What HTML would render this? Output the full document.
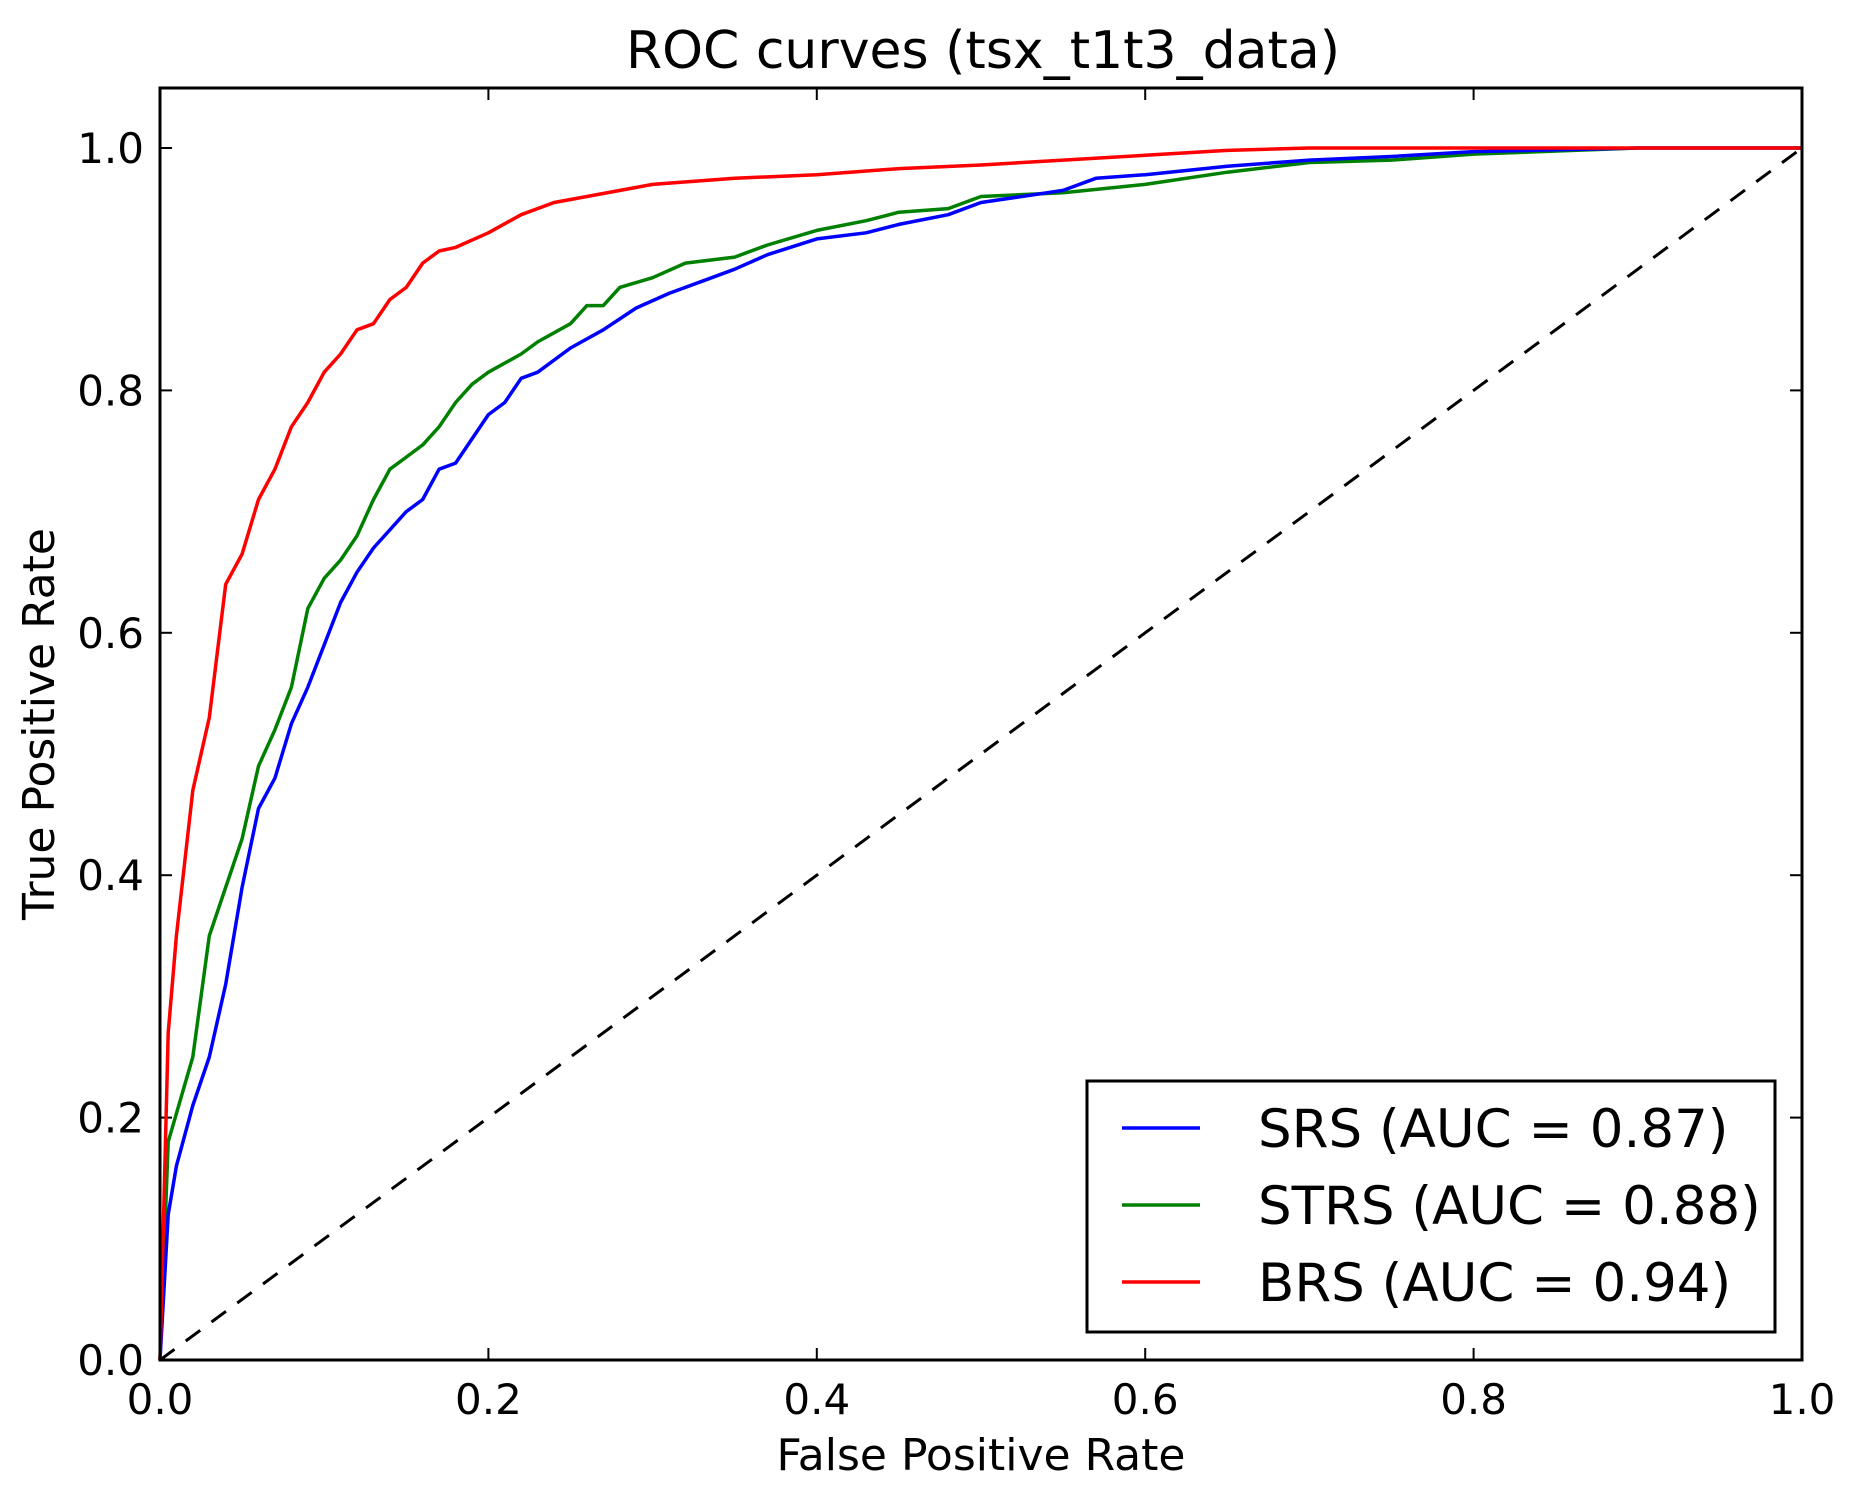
<!DOCTYPE html>
<html><head><meta charset="utf-8"><style>
html,body{margin:0;padding:0;background:#fff;}
svg{display:block;font-family:"DejaVu Sans","Liberation Sans",sans-serif;}
</style></head><body>
<svg id="chart" width="1852" height="1501" viewBox="0 0 1852 1501">
<text x="983" y="68" font-size="52" text-anchor="middle">ROC curves (tsx_t1t3_data)</text>
<g id="ticks"></g>
<g id="series"></g>
<rect x="160" y="88" width="1642" height="1272" fill="none" stroke="#000" stroke-width="3"/>
<text x="981" y="1470" font-size="44" text-anchor="middle">False Positive Rate</text>
<text transform="translate(54,724) rotate(-90)" font-size="44" text-anchor="middle">True Positive Rate</text>
<g>
<rect x="1087" y="1081" width="688" height="251" fill="#fff" stroke="#000" stroke-width="3"/>
<line x1="1122" y1="1128" x2="1200" y2="1128" stroke="#0000ff" stroke-width="3.5"/>
<text x="1258" y="1147" font-size="53">SRS (AUC = 0.87)</text>
<line x1="1122" y1="1205" x2="1200" y2="1205" stroke="#008000" stroke-width="3.5"/>
<text x="1258" y="1224" font-size="53">STRS (AUC = 0.88)</text>
<line x1="1122" y1="1282" x2="1200" y2="1282" stroke="#ff0000" stroke-width="3.5"/>
<text x="1258" y="1301" font-size="53">BRS (AUC = 0.94)</text>
</g>
</svg>
<script>
const tickValues=[0,0.2,0.4,0.6,0.8,1.0];
const tickLabels=["0.0","0.2","0.4","0.6","0.8","1.0"];
const srsX=[0,0.005,0.01,0.02,0.03,0.04,0.05,0.06,0.07,0.08,0.09,0.1,0.11,0.12,0.13,0.15,0.16,0.17,0.18,0.19,0.2,0.21,0.22,0.23,0.25,0.27,0.29,0.31,0.33,0.35,0.37,0.4,0.43,0.45,0.48,0.5,0.55,0.57,0.6,0.65,0.7,0.75,0.8,0.9,1.0];
const srsY=[0,0.12,0.16,0.21,0.25,0.31,0.39,0.455,0.48,0.525,0.555,0.59,0.625,0.65,0.67,0.70,0.71,0.735,0.74,0.76,0.78,0.79,0.81,0.815,0.835,0.85,0.868,0.88,0.89,0.90,0.912,0.925,0.93,0.937,0.945,0.955,0.965,0.975,0.978,0.985,0.99,0.993,0.997,1.0,1.0];
const strsX=[0,0.005,0.02,0.03,0.04,0.05,0.06,0.07,0.08,0.09,0.1,0.11,0.12,0.13,0.14,0.15,0.16,0.17,0.18,0.19,0.2,0.22,0.23,0.25,0.26,0.27,0.28,0.3,0.32,0.35,0.37,0.4,0.43,0.45,0.48,0.5,0.55,0.6,0.65,0.7,0.75,0.8,0.9,1.0];
const strsY=[0,0.18,0.25,0.35,0.39,0.43,0.49,0.52,0.555,0.62,0.645,0.66,0.68,0.71,0.735,0.745,0.755,0.77,0.79,0.805,0.815,0.83,0.84,0.855,0.87,0.87,0.885,0.893,0.905,0.91,0.92,0.932,0.94,0.947,0.95,0.96,0.963,0.97,0.98,0.988,0.99,0.995,1.0,1.0];
const brsX=[0,0.005,0.01,0.02,0.03,0.04,0.05,0.06,0.07,0.08,0.09,0.1,0.11,0.12,0.13,0.14,0.15,0.16,0.17,0.18,0.2,0.22,0.24,0.26,0.3,0.35,0.4,0.45,0.5,0.55,0.6,0.65,0.7,1.0];
const brsY=[0,0.27,0.35,0.47,0.53,0.64,0.665,0.71,0.735,0.77,0.79,0.815,0.83,0.85,0.855,0.875,0.885,0.905,0.915,0.918,0.93,0.945,0.955,0.96,0.97,0.975,0.978,0.983,0.986,0.99,0.994,0.998,1.0,1.0];
const NS="http://www.w3.org/2000/svg";
const xs=v=>160+v*1642, ys=v=>1360-v*1212;
const tg=document.getElementById('ticks');
function mk(tag,attrs,parent){const e=document.createElementNS(NS,tag);for(const k in attrs)e.setAttribute(k,attrs[k]);parent.appendChild(e);return e;}
tickValues.forEach((v,i)=>{
  let t=mk('line',{x1:xs(v),x2:xs(v),y1:1360,y2:1348,stroke:'#000','stroke-width':2},tg);
  
  
  t=mk('line',{x1:xs(v),x2:xs(v),y1:88,y2:100,stroke:'#000','stroke-width':2},tg);
  
  
  t=mk('line',{x1:160,x2:172,y1:ys(v),y2:ys(v),stroke:'#000','stroke-width':2},tg);
  
  
  t=mk('line',{x1:1790,x2:1802,y1:ys(v),y2:ys(v),stroke:'#000','stroke-width':2},tg);
  
  
  let l=mk('text',{x:xs(v),y:1414,'font-size':42,'text-anchor':'middle'},tg);
  l.textContent=tickLabels[i];
  
  
  l=mk('text',{x:144,y:ys(v)+15,'font-size':42,'text-anchor':'end'},tg);
  l.textContent=tickLabels[i];
  
  
});
const sg=document.getElementById('series');
let d=mk('line',{x1:xs(0),y1:ys(0),x2:xs(1),y2:ys(1),stroke:'#000','stroke-width':3,'stroke-dasharray':'18,14'},sg);


function path(X,Y,color,name){
  const p=mk('path',{d:X.map((x,i)=>(i?'L':'M')+xs(x).toFixed(1)+','+ys(Y[i]).toFixed(1)).join(''),fill:'none',stroke:color,'stroke-width':3.5,'stroke-linejoin':'round'},sg);
  
  
}
path(strsX,strsY,'#008000','curve-strs');
path(srsX,srsY,'#0000ff','curve-srs');
path(brsX,brsY,'#ff0000','curve-brs');
</script>
</body></html>
